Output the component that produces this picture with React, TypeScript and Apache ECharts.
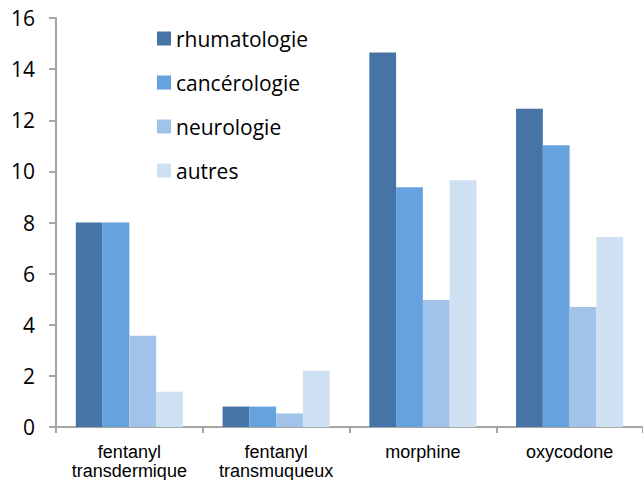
import React, { useEffect, useRef } from "react";
import * as echarts from "echarts";

const categories = ["fentanyl\ntransdermique", "fentanyl\ntransmuqueux", "morphine", "oxycodone"];
const seriesNames = ["rhumatologie", "cancérologie", "neurologie", "autres"];
const rhumatologie = [8.0, 0.8, 14.65, 12.45];
const cancerologie = [8.0, 0.8, 9.38, 11.02];
const neurologie = [3.57, 0.53, 4.97, 4.69];
const autres = [1.38, 2.2, 9.65, 7.43];
const colors = ["#4674A6", "#66A2DD", "#A1C3E9", "#CFE0F2"];
const yTicks = [0, 2, 4, 6, 8, 10, 12, 14, 16];

export default function App() {
  const ref = useRef<HTMLDivElement>(null);
  useEffect(() => {
    if (!ref.current) return;
    const chart = echarts.init(ref.current, undefined, { renderer: "svg" });
    const values = [rhumatologie, cancerologie, neurologie, autres];
    chart.setOption({
      animation: false,
      backgroundColor: "#ffffff",
      grid: { left: 56, right: 0, top: 18, bottom: 53, containLabel: false },
      legend: {
        orient: "vertical",
        left: 152,
        top: 23,
        itemWidth: 14,
        itemHeight: 14,
        itemGap: 23,
        icon: "rect",
        data: seriesNames,
        textStyle: { fontFamily: "Open Sans", fontSize: 21, color: "#000", lineHeight: 20 },
      },
      xAxis: {
        type: "category",
        data: categories,
        axisLine: { lineStyle: { color: "#A6A6A6", width: 2 } },
        axisTick: { show: true, length: 6, lineStyle: { color: "#A6A6A6", width: 2 } },
        axisLabel: {
          fontFamily: "Liberation Sans",
          fontSize: 18,
          lineHeight: 19,
          color: "#000",
          margin: 15,
          interval: 0,
        },
      },
      yAxis: {
        type: "value",
        min: yTicks[0],
        max: yTicks[yTicks.length - 1],
        interval: 2,
        splitLine: { show: false },
        axisLine: { show: true, lineStyle: { color: "#A6A6A6", width: 2 } },
        axisTick: { show: true, length: 7, lineStyle: { color: "#A6A6A6", width: 2 } },
        axisLabel: {
          fontFamily: "Open Sans",
          fontSize: 21,
          color: "#000",
          margin: 21,
          padding: [10, 0, 0, 0],
        },
      },
      series: seriesNames.map((name, i) => ({
        name,
        type: "bar",
        data: values[i],
        barGap: "0%",
        barCategoryGap: "27%",
        itemStyle: { color: colors[i] },
      })),
    });
    return () => chart.dispose();
  }, []);
  return <div ref={ref} style={{ width: 643, height: 480, position: "absolute", left: 0, top: 0 }} />;
}
